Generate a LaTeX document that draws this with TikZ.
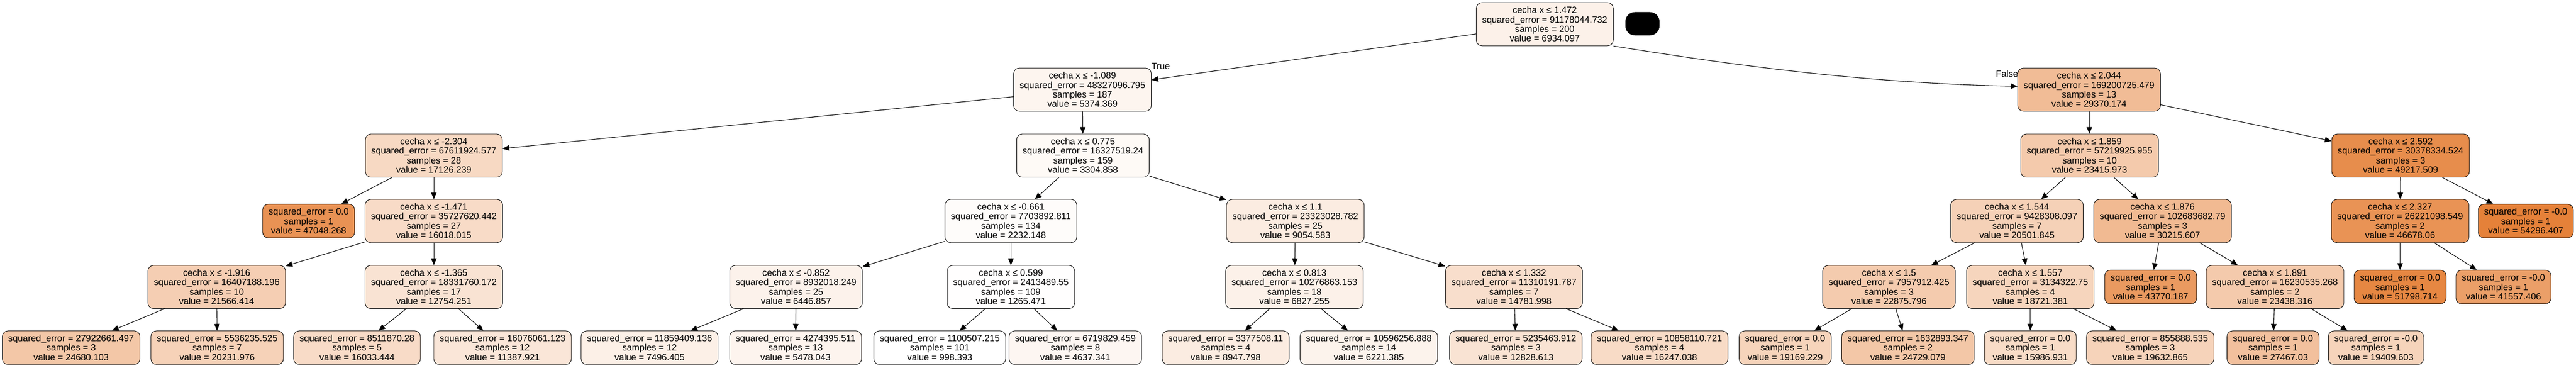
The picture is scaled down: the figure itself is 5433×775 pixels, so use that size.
\documentclass[tikz,border=0pt]{standalone}
\usepackage{fontspec}
\setmainfont{Liberation Sans}
\usepackage{color}
\usepackage[usenames]{xcolor}
\usepackage{tikz}
\usetikzlibrary{arrows}

\definecolor{sk}{RGB}{229,129,57}

\begin{document}
\begin{tikzpicture}[x=0.5pt,y=-0.5pt,
    split/.style={draw=black,line width=0.5pt,rounded corners=6pt,align=center,
      font=\fontsize{9.6}{10}\selectfont,inner xsep=6.25pt,inner ysep=0pt,
      minimum height=45.5pt},
    leaf/.style={split,minimum height=35.5pt},
    edge/.style={black,line width=0.6pt,->}]
\useasboundingbox (0,0) rectangle (5433,775);
\begin{scope}[>=triangle 45]
    \node[split,fill=sk!11.1] (root) at (3258,51) {cecha x ≤ 1.472\\squared\_error = 91178044.732\\samples = 200\\value = 6934.097};
    \node[fill=black,rounded corners=10pt,minimum width=36pt,minimum height=24.5pt,inner sep=0pt] (mask) at (3464,50) {};

    \node[split,fill=sk!8.2] (l) at (2283,189) {cecha x ≤ -1.089\\squared\_error = 48327096.795\\samples = 187\\value = 5374.369};
    \node[split,fill=sk!53.2] (r) at (4406,189) {cecha x ≤ 2.044\\squared\_error = 169200725.479\\samples = 13\\value = 29370.174};
    \node[font=\fontsize{9.6}{10}\selectfont] (truelbl) at (2448,140) {True};
    \node[font=\fontsize{9.6}{10}\selectfont] (falselbl) at (4233,156) {False};

    \node[split,fill=sk!30.3] (ll) at (915,328) {cecha x ≤ -2.304\\squared\_error = 67611924.577\\samples = 28\\value = 17126.239};
    \node[split,fill=sk!4.3] (lr) at (2284,328) {cecha x ≤ 0.775\\squared\_error = 16327519.24\\samples = 159\\value = 3304.858};
    \node[split,fill=sk!42.1] (rl) at (4407,328) {cecha x ≤ 1.859\\squared\_error = 57219925.955\\samples = 10\\value = 23415.973};
    \node[split,fill=sk!90.5] (rr) at (5063,328) {cecha x ≤ 2.592\\squared\_error = 30378334.524\\samples = 3\\value = 49217.509};

    \node[leaf,fill=sk!86.4] (lll) at (651,466) {squared\_error = 0.0\\samples = 1\\value = 47048.268};
    \node[split,fill=sk!28.2] (llr) at (915,466) {cecha x ≤ -1.471\\squared\_error = 35727620.442\\samples = 27\\value = 16018.015};
    \node[split,fill=sk!2.3] (lrl) at (2132,466) {cecha x ≤ -0.661\\squared\_error = 7703892.811\\samples = 134\\value = 2232.148};
    \node[split,fill=sk!15.1] (lrr) at (2732,466) {cecha x ≤ 1.1\\squared\_error = 23323028.782\\samples = 25\\value = 9054.583};
    \node[split,fill=sk!36.6] (rll) at (4254,466) {cecha x ≤ 1.544\\squared\_error = 9428308.097\\samples = 7\\value = 20501.845};
    \node[split,fill=sk!54.8] (rlr) at (4561,466) {cecha x ≤ 1.876\\squared\_error = 102683682.79\\samples = 3\\value = 30215.607};
    \node[split,fill=sk!85.7] (rrl) at (5062,466) {cecha x ≤ 2.327\\squared\_error = 26221098.549\\samples = 2\\value = 46678.06};
    \node[leaf,fill=sk!100] (rrr) at (5327,466) {squared\_error = -0.0\\samples = 1\\value = 54296.407};

    \node[split,fill=sk!38.6] (llrl) at (457,605) {cecha x ≤ -1.916\\squared\_error = 16407188.196\\samples = 10\\value = 21566.414};
    \node[split,fill=sk!22.1] (llrr) at (915,605) {cecha x ≤ -1.365\\squared\_error = 18331760.172\\samples = 17\\value = 12754.251};
    \node[split,fill=sk!10.2] (lrll) at (1679,605) {cecha x ≤ -0.852\\squared\_error = 8932018.249\\samples = 25\\value = 6446.857};
    \node[split,fill=sk!0.5] (lrlr) at (2132,605) {cecha x ≤ 0.599\\squared\_error = 2413489.55\\samples = 109\\value = 1265.471};
    \node[split,fill=sk!10.9] (lrrl) at (2730,605) {cecha x ≤ 0.813\\squared\_error = 10276863.153\\samples = 18\\value = 6827.255};
    \node[split,fill=sk!25.9] (lrrr) at (3193,605) {cecha x ≤ 1.332\\squared\_error = 11310191.787\\samples = 7\\value = 14781.998};
    \node[split,fill=sk!41.0] (rlll) at (3984,605) {cecha x ≤ 1.5\\squared\_error = 7957912.425\\samples = 3\\value = 22875.796};
    \node[split,fill=sk!33.3] (rllr) at (4282,605) {cecha x ≤ 1.557\\squared\_error = 3134322.75\\samples = 4\\value = 18721.381};
    \node[leaf,fill=sk!80.3] (rlrl) at (4536,605) {squared\_error = 0.0\\samples = 1\\value = 43770.187};
    \node[split,fill=sk!42.1] (rlrr) at (4798,605) {cecha x ≤ 1.891\\squared\_error = 16230535.268\\samples = 2\\value = 23438.316};
    \node[leaf,fill=sk!95.3] (rrll) at (5062,605) {squared\_error = 0.0\\samples = 1\\value = 51798.714};
    \node[leaf,fill=sk!76.1] (rrlr) at (5280,605) {squared\_error = -0.0\\samples = 1\\value = 41557.406};

    \node[leaf,fill=sk!44.4] (llrll) at (150,733) {squared\_error = 27922661.497\\samples = 3\\value = 24680.103};
    \node[leaf,fill=sk!36.1] (llrlr) at (458,733) {squared\_error = 5536235.525\\samples = 7\\value = 20231.976};
    \node[leaf,fill=sk!28.2] (llrrl) at (753,733) {squared\_error = 8511870.28\\samples = 5\\value = 16033.444};
    \node[leaf,fill=sk!19.5] (llrrr) at (1060,733) {squared\_error = 16076061.123\\samples = 12\\value = 11387.921};
    \node[leaf,fill=sk!12.2] (lrlll) at (1370,733) {squared\_error = 11859409.136\\samples = 12\\value = 7496.405};
    \node[leaf,fill=sk!8.4] (lrllr) at (1678,733) {squared\_error = 4274395.511\\samples = 13\\value = 5478.043};
    \node[leaf,fill=white] (lrlrl) at (1982,733) {squared\_error = 1100507.215\\samples = 101\\value = 998.393};
    \node[leaf,fill=sk!6.8] (lrlrr) at (2268,733) {squared\_error = 6719829.459\\samples = 8\\value = 4637.341};
    \node[leaf,fill=sk!14.9] (lrrll) at (2585,733) {squared\_error = 3377508.11\\samples = 4\\value = 8947.798};
    \node[leaf,fill=sk!9.8] (lrrlr) at (2887,733) {squared\_error = 10596256.888\\samples = 14\\value = 6221.385};
    \node[leaf,fill=sk!22.2] (lrrrl) at (3197,733) {squared\_error = 5235463.912\\samples = 3\\value = 12828.613};
    \node[leaf,fill=sk!28.6] (lrrrr) at (3500,733) {squared\_error = 10858110.721\\samples = 4\\value = 16247.038};
    \node[leaf,fill=sk!34.1] (rllll) at (3765,733) {squared\_error = 0.0\\samples = 1\\value = 19169.229};
    \node[leaf,fill=sk!44.5] (rlllr) at (4024,733) {squared\_error = 1632893.347\\samples = 2\\value = 24729.079};
    \node[leaf,fill=sk!28.1] (rllrl) at (4282,733) {squared\_error = 0.0\\samples = 1\\value = 15986.931};
    \node[leaf,fill=sk!35.0] (rllrr) at (4535,733) {squared\_error = 855888.535\\samples = 3\\value = 19632.865};
    \node[leaf,fill=sk!49.7] (rlrrl) at (4794,733) {squared\_error = 0.0\\samples = 1\\value = 27467.03};
    \node[leaf,fill=sk!34.5] (rlrrr) at (5011,733) {squared\_error = -0.0\\samples = 1\\value = 19409.603};

    \draw[edge] (root) -- (l);
    \draw[edge] (root.south east) .. controls (3703,145) and (3958,176) .. ([yshift=3.5pt]r.west);
    \draw[edge] (l) -- (ll);
    \draw[edge] (l) -- (lr);
    \draw[edge] (r) -- (rl);
    \draw[edge] (r) -- (rr);
    \draw[edge] (ll) -- (lll);
    \draw[edge] (ll) -- (llr);
    \draw[edge] (lr) -- (lrl);
    \draw[edge] (lr) -- (lrr);
    \draw[edge] (rl) -- (rll);
    \draw[edge] (rl) -- (rlr);
    \draw[edge] (rr) -- (rrl);
    \draw[edge] (rr) -- (rrr);
    \draw[edge] (llr) -- (llrl);
    \draw[edge] (llr) -- (llrr);
    \draw[edge] (lrl) -- (lrll);
    \draw[edge] (lrl) -- (lrlr);
    \draw[edge] (lrr) -- (lrrl);
    \draw[edge] (lrr) -- (lrrr);
    \draw[edge] (rll) -- (rlll);
    \draw[edge] (rll) -- (rllr);
    \draw[edge] (rlr) -- (rlrl);
    \draw[edge] (rlr) -- (rlrr);
    \draw[edge] (rrl) -- (rrll);
    \draw[edge] (rrl) -- (rrlr);
    \draw[edge] (llrl) -- (llrll);
    \draw[edge] (llrl) -- (llrlr);
    \draw[edge] (llrr) -- (llrrl);
    \draw[edge] (llrr) -- (llrrr);
    \draw[edge] (lrll) -- (lrlll);
    \draw[edge] (lrll) -- (lrllr);
    \draw[edge] (lrlr) -- (lrlrl);
    \draw[edge] (lrlr) -- (lrlrr);
    \draw[edge] (lrrl) -- (lrrll);
    \draw[edge] (lrrl) -- (lrrlr);
    \draw[edge] (lrrr) -- (lrrrl);
    \draw[edge] (lrrr) -- (lrrrr);
    \draw[edge] (rlll) -- (rllll);
    \draw[edge] (rlll) -- (rlllr);
    \draw[edge] (rllr) -- (rllrl);
    \draw[edge] (rllr) -- (rllrr);
    \draw[edge] (rlrr) -- (rlrrl);
    \draw[edge] (rlrr) -- (rlrrr);
\end{scope}
\end{tikzpicture}
\end{document}
